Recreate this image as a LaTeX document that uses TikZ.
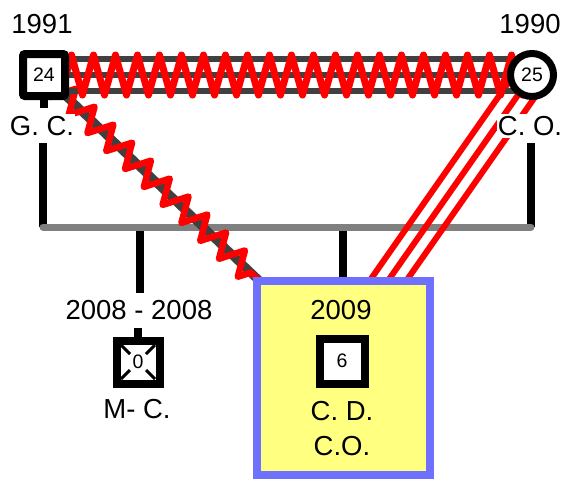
\documentclass[tikz,border=0pt]{standalone}
\usepackage{fontspec}
\setmainfont{Liberation Sans}
\usetikzlibrary{decorations.pathmorphing,backgrounds}
\definecolor{relgray}{HTML}{404040}
\definecolor{bargray}{HTML}{808080}
\definecolor{boxblue}{HTML}{7070FF}
\definecolor{boxyellow}{HTML}{FFFF80}
\definecolor{zigred}{HTML}{FF0000}
\begin{document}
\begin{tikzpicture}[x=1pt,y=-1pt,
  lbl/.style={font=\fontsize{27.5}{30}\selectfont, inner sep=1pt},
  wlbl/.style={lbl, fill=white, inner xsep=1pt, inner ysep=2pt},
  person/.style={draw=black, fill=white, line width=8pt, minimum size=42pt, inner sep=0pt, font=\fontsize{19.5}{21}\selectfont},
  famline/.style={draw=black, line width=8pt},
  relbase/.style={draw=relgray, line width=5.5pt},
  zig/.style={draw=zigred, line join=round, decorate},
  cutline/.style={draw=zigred, line width=6pt}
]
\useasboundingbox (0,0) rectangle (564,483);

% persons
\node[person, rounded corners=2pt] (gc) at (44,75) {24};
\node[person, circle, line width=7pt, minimum size=43pt] (co) at (532,75) {25};
\node[lbl] (gcyear) at (42,24) {1991};
\node[lbl] (coyear) at (530,24) {1990};
\node[wlbl] (gcname) at (42,126) {G. C.};
\node[wlbl] (coname) at (530,126) {C. O.};

% family box
\node[draw=boxblue, fill=boxyellow, line width=8pt, minimum width=173pt, minimum height=194pt, inner sep=0pt] (fam) at (343,378) {};
\node[person, minimum size=45pt] (cd) at (342,361) {6};
\node[lbl] (cdyear) at (341,310) {2009};
\node[lbl] (cdname1) at (342,411) {C. D.};
\node[lbl] (cdname2) at (342,446) {C.O.};

% miscarriage / dead child
\node[person, minimum size=43pt] (mc) at (138,362) {0};
\draw[line width=3pt] ([shift={(-17,-17)}]mc.center) -- ([shift={(-8,-8)}]mc.center);
\draw[line width=3pt] ([shift={(17,-17)}]mc.center) -- ([shift={(8,-8)}]mc.center);
\draw[line width=3pt] ([shift={(-17,17)}]mc.center) -- ([shift={(-8,8)}]mc.center);
\draw[line width=3pt] ([shift={(17,17)}]mc.center) -- ([shift={(8,8)}]mc.center);
\node[lbl] (mcyear) at (139,310) {2008 - 2008};
\node[lbl] (mcname) at (137,409) {M- C.};

% coordinates of the family line
\coordinate (gcdrop) at (43,143);
\coordinate (barL) at (43,227);
\coordinate (codrop) at (531,143);
\coordinate (barR) at (531,227);
\coordinate (mcbar) at (140,227);
\coordinate (mcdrop) at (140,293);
\coordinate (cdbar) at (343,227);
\coordinate (cotgt) at ([shift={(-12,18)}]fam.north -| 390,0);

\begin{scope}[on background layer]
  % stubs
  \draw[famline] (gc.center) -- ++(0,33);
  \draw[famline] (mc.center) -- ++(0,-34);
  % family lines
  \draw[famline] (gcdrop) -- (barL);
  \draw[famline] (codrop) -- (barR);
  \draw[famline] (mcbar) -- (mcdrop);
  \draw[famline] (cdbar) -- (fam.north);
  \draw[draw=bargray, line width=7pt, line cap=round] (barL) -- (barR);
  % G.C. -- child : hostile
  \draw[draw=relgray, line width=9pt] (gc.center) -- ([shift={(6,3)}]fam.north west);
  \draw[zig, line width=6.5pt, decoration={zigzag, segment length=26pt, amplitude=12pt}] (gc.center) -- ([shift={(6,3)}]fam.north west);
  % C.O. -- child : cut off
  \draw[cutline] ([shift={(-12.4,-8.5)}]co.center) -- ([shift={(-12.4,-8.5)}]cotgt);
  \draw[cutline] (co.center) -- (cotgt);
  \draw[cutline] ([shift={(12.4,8.5)}]co.center) -- ([shift={(12.4,8.5)}]cotgt);
  % G.C. -- C.O. : fused-hostile
  \draw[relbase] ([yshift=16pt]gc.center) -- ([yshift=16pt]co.center);
  \draw[relbase] (gc.center) -- (co.center);
  \draw[relbase] ([yshift=-16pt]gc.center) -- ([yshift=-16pt]co.center);
  \draw[zig, line width=7pt, decoration={zigzag, segment length=22pt, amplitude=20pt}] (gc.center) -- (co.center);
\end{scope}
\end{tikzpicture}
\end{document}
